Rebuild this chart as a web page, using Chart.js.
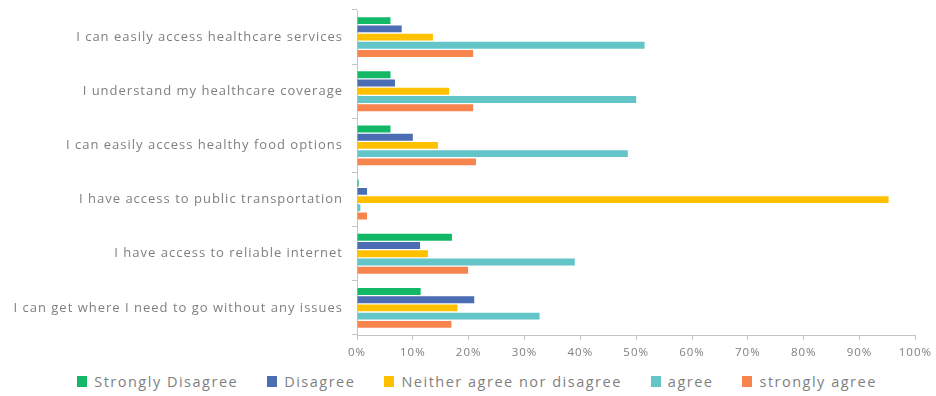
<!DOCTYPE html>
<html>
<head>
<meta charset="utf-8">
<script src="https://cdn.jsdelivr.net/npm/chart.js@4/dist/chart.umd.min.js"></script>
<style>
  html, body { margin: 0; padding: 0; background: #fff; }
  #wrap { width: 936px; height: 396px; }
  #legend {
    display: flex; justify-content: center; align-items: center;
    height: 30px; padding: 4px 0 0 18px; gap: 29px;
    font: 14.5px "Open Sans", sans-serif; letter-spacing: 1.5px; color: #7f7f7f;
  }
  #legend .item { display: flex; align-items: center; white-space: nowrap; }
  #legend .swatch { width: 10px; height: 11px; margin-right: 7px; }
</style>
</head>
<body>
<div id="wrap">
  <canvas id="surveyChart" width="936" height="362"></canvas>
  <div id="legend"></div>
</div>
<script>
const questions = [
    'I can easily access healthcare services',
    'I understand my healthcare coverage',
    'I can easily access healthy food options',
    'I have access to public transportation',
    'I have access to reliable internet',
    'I can get where I need to go without any issues'
];

const stronglyDisagree = [6, 6, 6, 0.3, 17, 11.4];
const disagree = [8, 6.8, 10, 1.8, 11.3, 21];
const neutral = [13.6, 16.5, 14.5, 95.2, 12.7, 18];
const agree = [51.5, 50, 48.5, 0.6, 39, 32.7];
const stronglyAgree = [20.8, 20.8, 21.3, 1.8, 19.9, 16.9];

const xTicks = [0, 10, 20, 30, 40, 50, 60, 70, 80, 90, 100];

const textColor = '#7f7f7f';
const axisColor = '#c4c4c4';
const fontFamily = '"Open Sans", sans-serif';

function series(label, data, color) {
    return {
        label,
        data,
        backgroundColor: color,
        borderWidth: 0,
        categoryPercentage: 0.76,
        barPercentage: 0.84
    };
}

// wider letter spacing for the axis text
const spacedText = {
    id: 'spacedText',
    beforeDraw(chart) { chart.ctx.letterSpacing = '1px'; }
};

// legend rendered as html under the canvas
const htmlLegend = {
    id: 'htmlLegend',
    afterUpdate(chart) {
        const box = document.getElementById('legend');
        const items = chart.options.plugins.legend.labels.generateLabels(chart);
        box.innerHTML = items.map(item => `
            <span class="item"><span class="swatch" style="background:${item.fillStyle}"></span>${item.text}</span>
        `).join('');
    }
};

const ctx = document.getElementById('surveyChart').getContext('2d');
new Chart(ctx, {
    type: 'bar',
    data: {
        labels: questions,
        datasets: [
            series('Strongly Disagree', stronglyDisagree, '#12b866'),
            series('Disagree', disagree, '#4a6db3'),
            series('Neither agree nor disagree', neutral, '#ffc000'),
            series('agree', agree, '#63c5c8'),
            series('strongly agree', stronglyAgree, '#f7834d')
        ]
    },
    plugins: [spacedText, htmlLegend],
    options: {
        indexAxis: 'y',
        responsive: false,
        animation: false,
        layout: { padding: { top: 10, right: 20, left: 0, bottom: 0 } },
        scales: {
            x: {
                min: 0,
                max: 100,
                afterBuildTicks: scale => { scale.ticks = xTicks.map(v => ({ value: v })); },
                afterFit: scale => { scale.height = 27; },
                border: { color: axisColor, width: 1 },
                grid: { drawOnChartArea: false, color: axisColor, tickLength: 5 },
                ticks: {
                    color: textColor,
                    font: { family: fontFamily, size: 11.5 },
                    padding: 6,
                    callback: v => v + '%'
                }
            },
            y: {
                afterFit: scale => {
                    scale.width = 357;
                    scale.paddingTop = 0;
                    scale.paddingBottom = 0;
                },
                border: { color: axisColor, width: 1 },
                grid: { drawOnChartArea: false, color: axisColor, tickLength: 5 },
                ticks: {
                    color: textColor,
                    font: { family: fontFamily, size: 13 },
                    padding: 9
                }
            }
        },
        plugins: {
            legend: { display: false },
            tooltip: { enabled: false }
        }
    }
});
</script>
</body>
</html>
